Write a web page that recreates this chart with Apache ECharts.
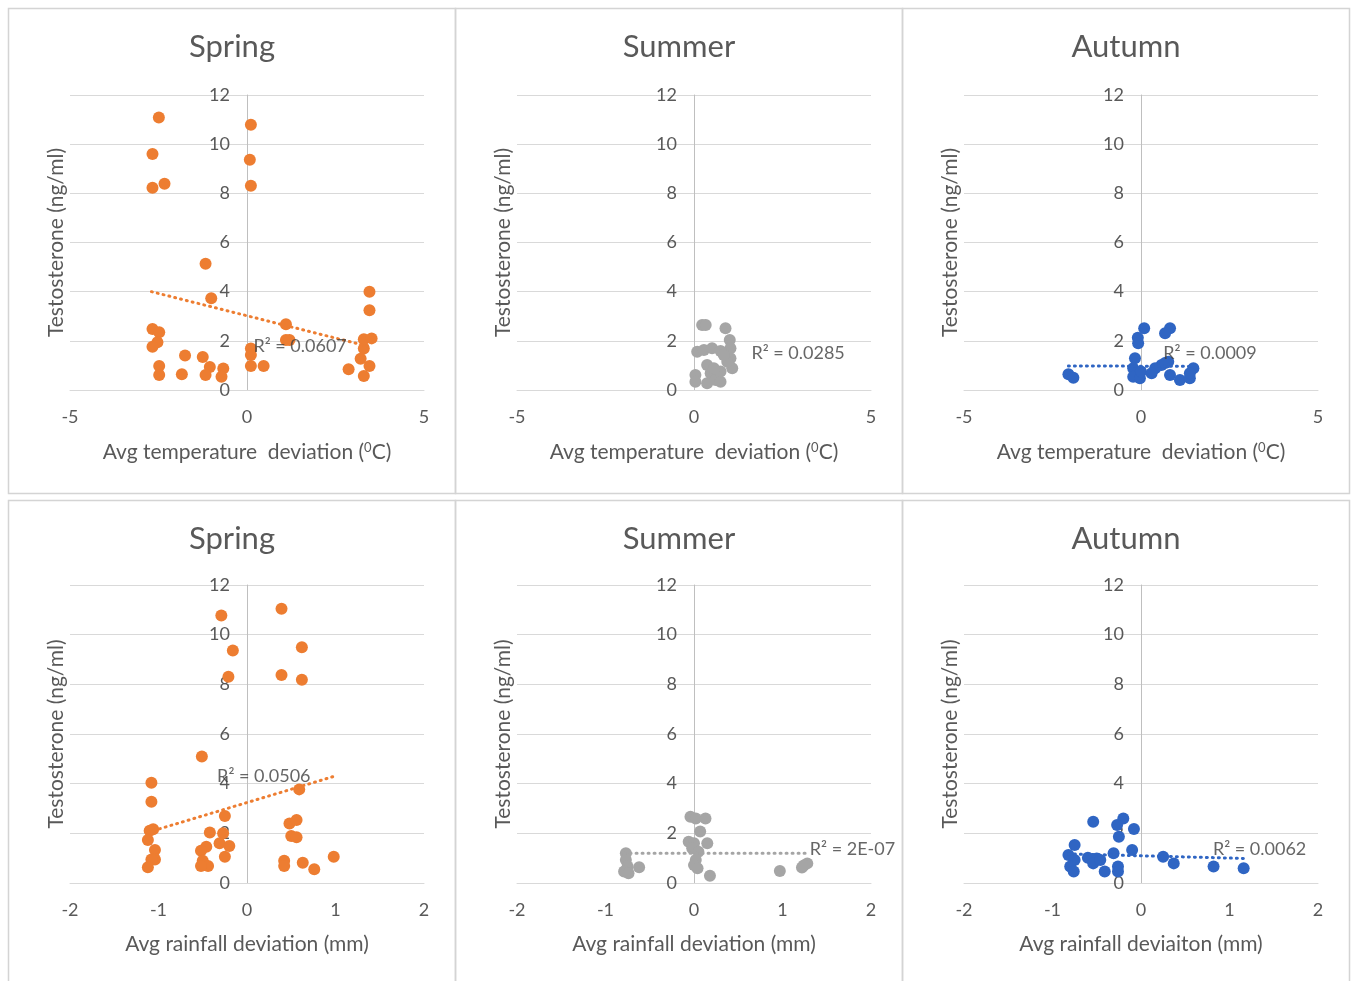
<!DOCTYPE html>
<html><head><meta charset="utf-8">
<script src="https://cdn.jsdelivr.net/npm/echarts@6/dist/echarts.min.js"></script>
<style>html,body{margin:0;padding:0;background:#fff}#c{width:1351px;height:981px}</style>
</head><body><div id="c"></div><script>
// ---------- data ----------
const seasons = ['Spring', 'Summer', 'Autumn'];
const tempTicks = [-5, 0, 5];
const rainTicks = [-2, -1, 0, 1, 2];
const yTicks = [0, 2, 4, 6, 8, 10, 12];

const springTemp = [[-2.49,11.08],[-2.67,9.6],[-2.67,8.23],[-2.33,8.39],[0.11,10.79],[0.08,9.37],[0.11,8.31],
  [-1.17,5.14],[-1.01,3.73],[-2.67,2.48],[-2.48,2.35],[-2.53,1.94],[-2.67,1.76],[-2.48,0.98],[-2.48,0.61],
  [-1.75,1.40],[-1.84,0.64],[-1.25,1.34],[-1.05,0.94],[-1.17,0.61],[-0.67,0.87],[-0.72,0.54],
  [0.11,1.69],[0.11,1.42],[0.11,0.98],[0.47,0.98],[1.10,2.67],[1.10,2.03],[1.20,2.03],
  [2.87,0.84],[3.21,1.27],[3.30,1.69],[3.30,0.57],[3.46,0.98],[3.30,2.06],[3.52,2.10],[3.46,3.24],[3.46,4.0]];
const summerTemp = [[0.23,2.64],[0.33,2.64],[0.89,2.51],[1.01,2.03],[1.03,1.70],[1.03,1.29],[1.08,0.88],
  [0.09,1.56],[0.28,1.63],[0.51,1.70],[0.75,1.59],[0.04,0.61],[0.04,0.34],[0.37,1.02],[0.47,0.68],
  [0.37,0.27],[0.61,0.41],[0.75,0.34],[0.75,0.75],[0.56,0.88],[0.94,1.15],[0.84,1.42]];
const autumnTemp = [[-2.05,0.64],[-1.91,0.50],[0.09,2.51],[-0.09,2.13],[-0.08,1.90],[-0.17,1.29],[-0.22,0.88],
  [-0.22,0.54],[-0.03,0.48],[0.0,0.75],[0.82,2.51],[0.68,2.31],[0.77,1.15],[0.58,1.02],[0.40,0.88],
  [0.30,0.68],[0.82,0.61],[1.10,0.41],[1.38,0.48],[1.48,0.88],[1.38,0.68],[0.68,1.10]];
const springRain = [[0.39,11.04],[-0.29,10.77],[-0.16,9.36],[-0.21,8.31],[0.39,8.38],[0.62,9.49],[0.62,8.18],
  [-0.51,5.09],[0.59,3.77],[-1.08,4.04],[-1.08,3.27],[-1.06,2.16],[-1.10,2.10],[-1.12,1.73],[-1.04,1.33],
  [-1.04,0.95],[-1.08,0.95],[-1.12,0.63],[-0.25,2.70],[-0.42,2.03],[-0.27,2.0],[-0.31,1.60],[-0.20,1.49],
  [-0.46,1.46],[-0.52,1.30],[-0.50,0.90],[-0.44,0.68],[-0.52,0.68],[-0.25,1.06],[0.48,2.40],[0.56,2.54],
  [0.50,1.89],[0.56,1.84],[0.42,0.90],[0.42,0.68],[0.63,0.82],[0.76,0.55],[0.98,1.06]];
const summerRain = [[-0.77,1.20],[-0.77,0.93],[-0.75,0.66],[-0.79,0.46],[-0.74,0.39],[-0.62,0.63],
  [-0.04,2.67],[0.02,2.60],[0.13,2.60],[0.07,2.07],[-0.06,1.66],[0.0,1.60],[0.15,1.60],[-0.02,1.40],
  [0.05,1.26],[0.02,0.93],[0.0,0.72],[0.04,0.59],[0.18,0.29],[0.97,0.48],[1.22,0.62],[1.28,0.79],[1.24,0.70]];
const autumnRain = [[-0.54,2.47],[-0.20,2.60],[-0.27,2.34],[-0.25,1.86],[-0.08,2.17],[-0.10,1.33],[-0.31,1.20],
  [-0.75,1.53],[-0.82,1.13],[-0.75,0.93],[-0.80,0.66],[-0.76,0.46],[-0.60,1.02],[-0.50,0.99],[-0.54,0.79],
  [-0.46,0.93],[-0.41,0.46],[-0.26,0.66],[-0.26,0.46],[0.25,1.06],[0.37,0.79],[0.82,0.66],[1.16,0.59]];

// trendline end points
const springTempTrend = [[-2.7,4.0],[3.5,1.75]];
const autumnTempTrend = [[-2.05,0.98],[1.48,0.96]];
const springRainTrend = [[-1.12,2.04],[0.98,4.29]];
const summerRainTrend = [[-0.79,1.20],[1.28,1.20]];
const autumnRainTrend = [[-0.82,1.17],[1.16,0.99]];

const r2Texts = ['R² = 0.0607','R² = 0.0285','R² = 0.0009','R² = 0.0506','R² = 2E-07','R² = 0.0062'];

// ---------- styles / layout ----------
const ORANGE = '#ED7D31', GRAY = '#A5A5A5', BLUE = '#2F65C3';
const TXT = '#595959';
const FONT = 'Lato, "Open Sans", sans-serif';
const colLeft = [70, 517, 964], gridW = 354;
const rowTop = [95, 585], rowH = [295, 298];

const panels = [
  {row:0,col:0,data:springTemp,color:ORANGE,trend:springTempTrend,r2:r2Texts[0],r2pos:[1.5,1.79]},
  {row:0,col:1,data:summerTemp,color:GRAY,trend:null,r2:r2Texts[1],r2pos:[2.94,1.5]},
  {row:0,col:2,data:autumnTemp,color:BLUE,trend:autumnTempTrend,r2:r2Texts[2],r2pos:[1.95,1.5]},
  {row:1,col:0,data:springRain,color:ORANGE,trend:springRainTrend,r2:r2Texts[3],r2pos:[0.19,4.31]},
  {row:1,col:1,data:summerRain,color:GRAY,trend:summerRainTrend,r2:r2Texts[4],r2pos:[1.79,1.37]},
  {row:1,col:2,data:autumnRain,color:BLUE,trend:autumnRainTrend,r2:r2Texts[5],r2pos:[1.34,1.37]}
];
const xNames = [
  ['Avg temperature  deviation ({sup|0}C)','Avg temperature  deviation ({sup|0}C)','Avg temperature  deviation ({sup|0}C)'],
  ['Avg rainfall deviation (mm)','Avg rainfall deviation (mm)','Avg rainfall deviaiton (mm)']
];

const grids = [], xAxes = [], yAxes = [], series = [], graphics = [];
panels.forEach((p, i) => {
  const ticks = p.row === 0 ? tempTicks : rainTicks;
  grids.push({left: colLeft[p.col], top: rowTop[p.row], width: gridW, height: rowH[p.row], containLabel:false, outerBoundsMode:'none'});
  xAxes.push({
    type:'value', gridIndex:i, min: ticks[0], max: ticks[ticks.length-1], interval: ticks[1]-ticks[0],
    axisLine:{show:true, onZero:false, lineStyle:{color:'#D9D9D9', width:1}},
    axisTick:{show:false}, splitLine:{show:false},
    axisLabel:{color:TXT, fontSize:18, fontFamily:FONT, margin:18},
    name: xNames[p.row][p.col], nameLocation:'middle', nameGap:51,
    nameTextStyle:{color:TXT, fontSize:21, fontFamily:FONT, rich:{sup:{fontSize:13, color:TXT, fontFamily:FONT, verticalAlign:'top', padding:[0,0,9,0]}}}
  });
  yAxes.push({
    type:'value', gridIndex:i, position:'left', offset: -(gridW/2),
    min: yTicks[0], max: yTicks[yTicks.length-1], interval: yTicks[1]-yTicks[0],
    axisLine:{show:true, onZero:false, lineStyle:{color:'#BFBFBF', width:1}},
    axisTick:{show:false},
    splitLine:{show:true, lineStyle:{color:'#D9D9D9', width:1}},
    axisLabel:{color:TXT, fontSize:18, fontFamily:FONT, margin:17},
    name:'Testosterone (ng/ml)', nameLocation:'middle', nameGap:180,
    nameTextStyle:{color:TXT, fontSize:21, fontFamily:FONT}
  });
  series.push({
    type:'scatter', xAxisIndex:i, yAxisIndex:i, data:p.data, symbolSize:12,
    itemStyle:{color:p.color, opacity:1}, z:2, silent:true
  });
  if (p.trend) {
    series.push({
      type:'line', xAxisIndex:i, yAxisIndex:i, data:p.trend, symbol:'none', z:3, silent:true,
      lineStyle:{color:p.color, width:3, type:[1,5], cap:'round'}
    });
  }
  series.push({
    type:'scatter', xAxisIndex:i, yAxisIndex:i, data:[p.r2pos], symbolSize:1, z:4, silent:true,
    itemStyle:{color:'rgba(0,0,0,0)'},
    label:{show:true, position:'inside', formatter:p.r2, color:'#404040', fontSize:18, fontFamily:FONT}
  });
  // panel frame and title
  const px = [8, 455, 902][p.col], py = [8, 500][p.row];
  graphics.push({type:'rect', shape:{x:px+0.5, y:py+0.5, width:447, height: p.row===0 ? 485 : 500},
    style:{fill:'none', stroke:'#D4D4D4', lineWidth:1.5}, silent:true});
  graphics.push({type:'text', x: px + 224, y: p.row===0 ? 47 : 539,
    style:{text: seasons[p.col], fill:TXT, font:'31px ' + FONT, align:'center', verticalAlign:'middle'}});
});

const chart = echarts.init(document.getElementById('c'), null, {renderer:'canvas'});
chart.setOption({
  backgroundColor:'#fff', animation:false,
  grid:grids, xAxis:xAxes, yAxis:yAxes, series:series, graphic:graphics
});
</script></body></html>
